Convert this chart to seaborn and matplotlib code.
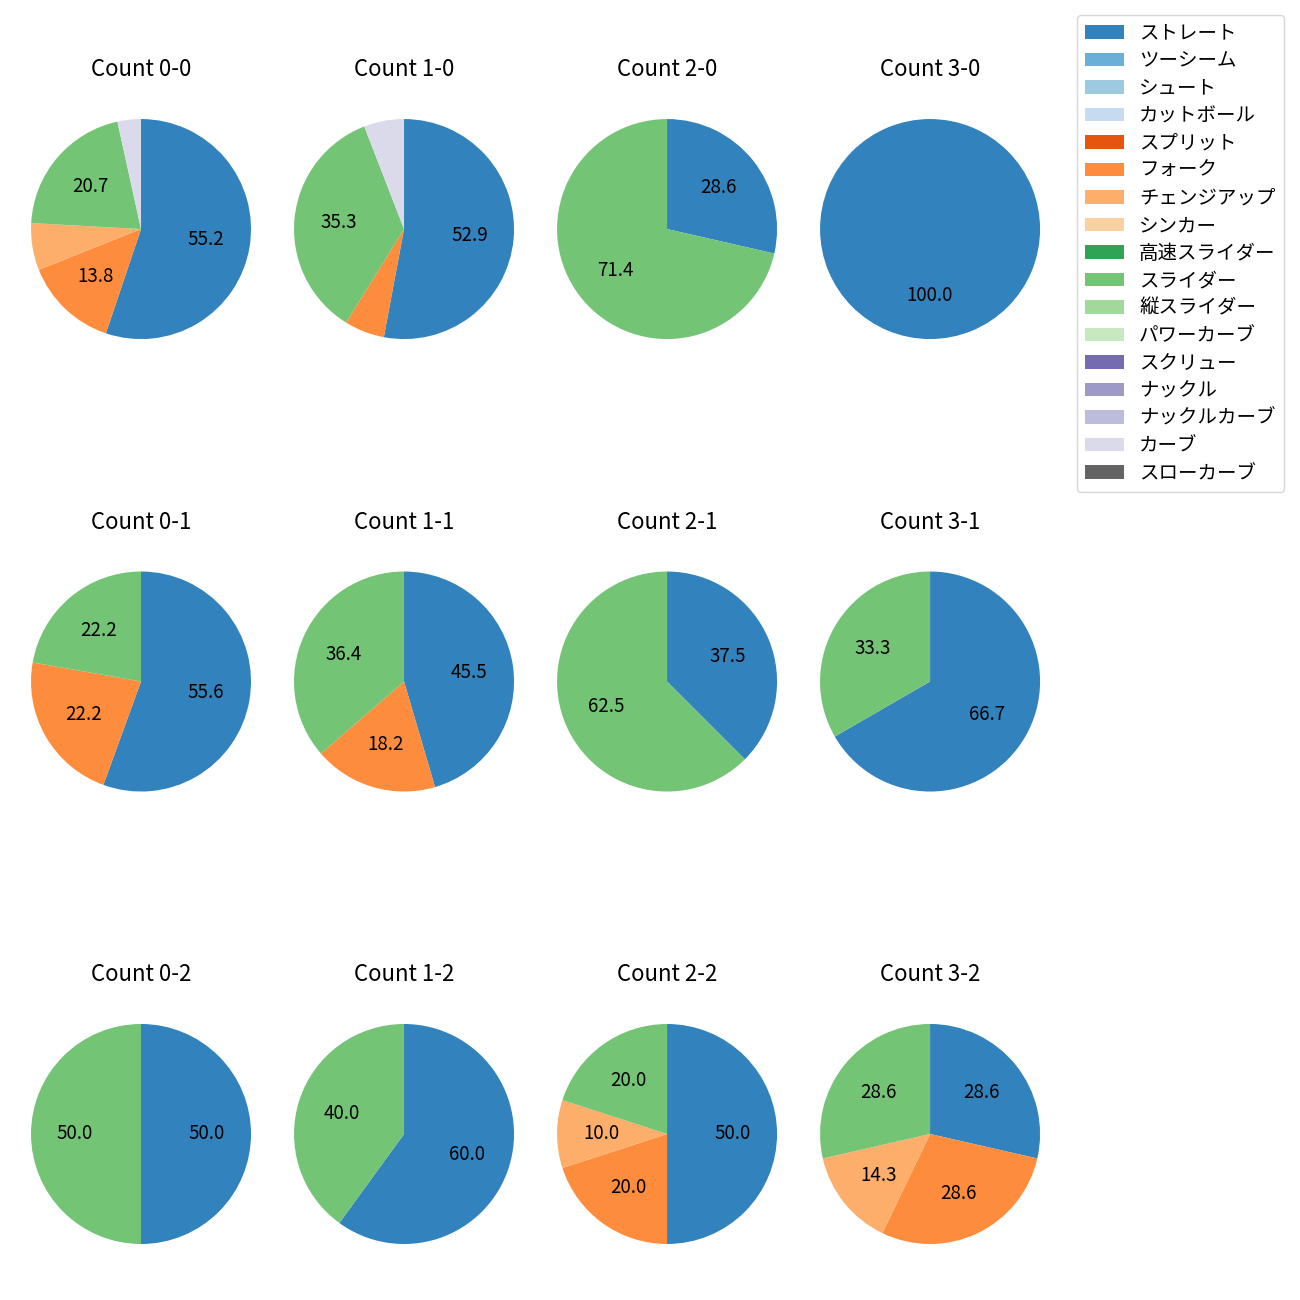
import matplotlib
matplotlib.use("Agg")
import matplotlib.pyplot as plt
import seaborn as sns
from matplotlib.patches import Patch

plt.rcParams['font.family'] = ['Noto Sans CJK JP', 'DejaVu Sans']

pitch_types = ["ストレート", "ツーシーム", "シュート", "カットボール", "スプリット", "フォーク",
               "チェンジアップ", "シンカー", "高速スライダー", "スライダー", "縦スライダー",
               "パワーカーブ", "スクリュー", "ナックル", "ナックルカーブ", "カーブ", "スローカーブ"]

counts = ["0-0", "1-0", "2-0", "3-0",
          "0-1", "1-1", "2-1", "3-1",
          "0-2", "1-2", "2-2", "3-2"]

# number of pitches per ball-strike count
straight = [16, 9, 2, 1, 5, 5, 3, 2, 1, 3, 5, 2]
fork     = [4, 1, 0, 0, 2, 2, 0, 0, 0, 0, 2, 2]
changeup = [2, 0, 0, 0, 0, 0, 0, 0, 0, 0, 1, 1]
slider   = [6, 6, 5, 0, 2, 4, 5, 1, 1, 2, 2, 2]
curve    = [1, 1, 0, 0, 0, 0, 0, 0, 0, 0, 0, 0]

series = {"ストレート": straight, "フォーク": fork, "チェンジアップ": changeup,
          "スライダー": slider, "カーブ": curve}

palette = sns.color_palette("tab20c", 20)
color_map = {name: palette[i] for i, name in enumerate(pitch_types)}

fig, axes = plt.subplots(3, 4, figsize=(13, 13), dpi=100)
fig.subplots_adjust(left=0.0027, right=0.8212, top=0.9296, bottom=0.0219,
                    wspace=-0.0436, hspace=0.645)

for idx, cnt in enumerate(counts):
    ax = axes[idx // 4][idx % 4]
    names = [n for n in pitch_types if n in series and series[n][idx] > 0]
    vals = [series[n][idx] for n in names]
    cols = [color_map[n] for n in names]
    ax.pie(vals, colors=cols, startangle=90, counterclock=False,
           autopct=lambda p: f"{p:.1f}" if p >= 10 else "",
           textprops={'fontsize': 13.5})
    ax.set_title(f"Count {cnt}", fontsize=16, pad=11)
    ax.set_aspect('equal')

handles = [Patch(facecolor=color_map[n], label=n) for n in pitch_types]
fig.legend(handles=handles, loc='upper left', bbox_to_anchor=(1077 / 1300, 1 - 15 / 1300),
           fontsize=14, borderaxespad=0, labelspacing=0.335)

fig.savefig("out.png", dpi=100)
